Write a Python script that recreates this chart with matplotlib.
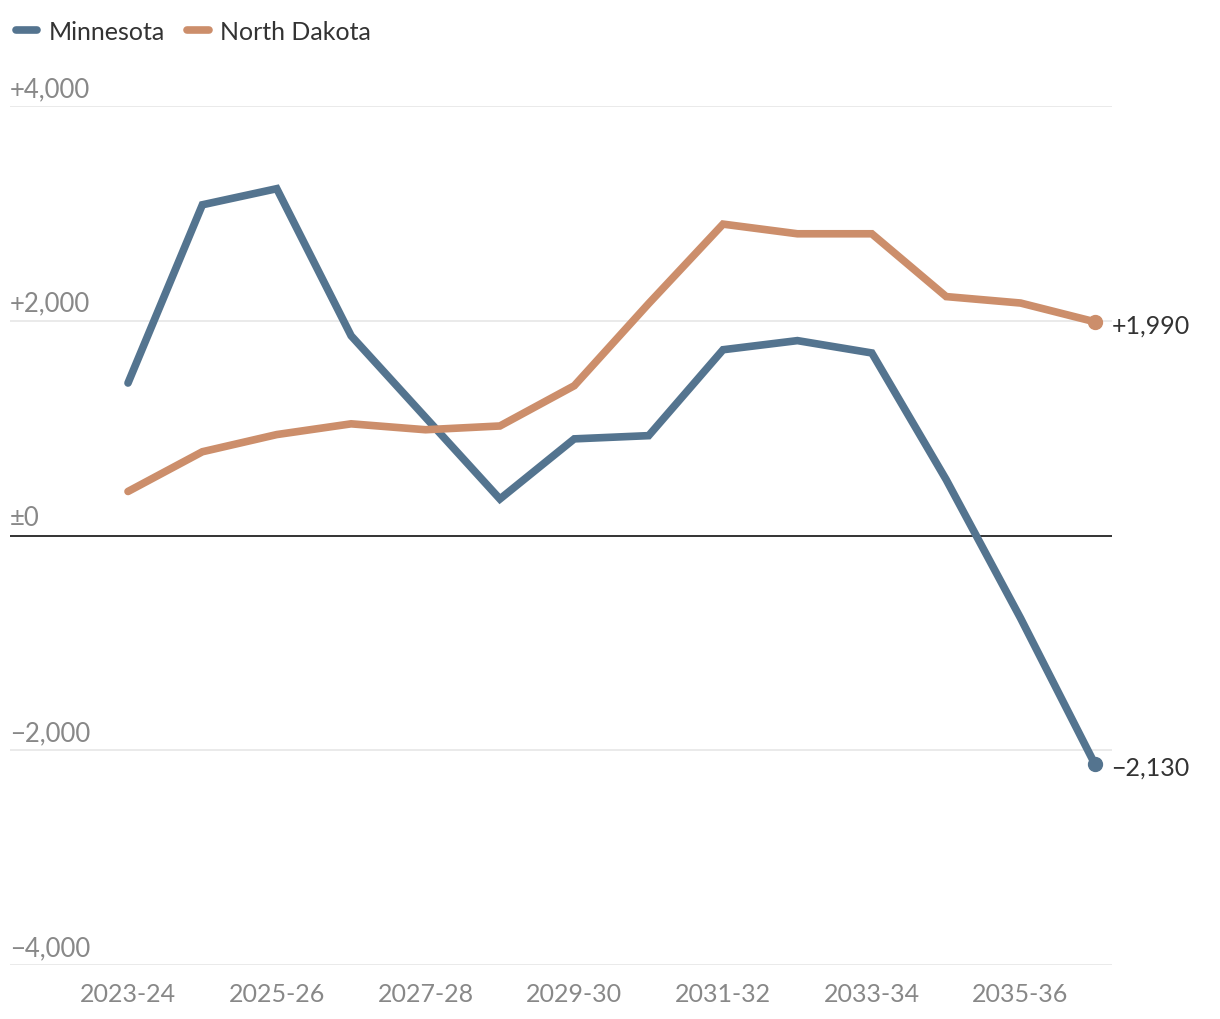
import matplotlib.pyplot as plt
from matplotlib.transforms import blended_transform_factory, offset_copy

# Data
seasons = ['2023-24', '2024-25', '2025-26', '2026-27', '2027-28', '2028-29', '2029-30',
           '2030-31', '2031-32', '2032-33', '2033-34', '2034-35', '2035-36', '2036-37']
minnesota = [1420, 3080, 3230, 1860, 1100, 340, 900, 930, 1730, 1815, 1700, 520, -770, -2130]
north_dakota = [410, 780, 940, 1040, 985, 1020, 1395, 2160, 2900, 2810, 2810, 2225, 2165, 1990]
y_ticks = [4000, 2000, 0, -2000, -4000]
y_tick_labels = ['+4,000', '+2,000', '\u00b10', '\u22122,000', '\u22124,000']
end_labels = ['\u22122,130', '+1,990']

blue = '#54748f'
orange = '#cc8e6b'
grey = '#888888'
dark = '#333333'

plt.rcParams['font.family'] = ['Lato', 'DejaVu Sans']

fig = plt.figure(figsize=(12.2, 10.2), dpi=100)
W, H = 1220, 1020
ax = fig.add_axes([10 / W, (H - 966) / H, 1102 / W, 859 / H])

x = list(range(len(seasons)))
ax.plot(x, minnesota, color=blue, lw=5.5, solid_capstyle='round', solid_joinstyle='miter', zorder=3,
        label='Minnesota')
ax.plot(x, north_dakota, color=orange, lw=5.5, solid_capstyle='round', solid_joinstyle='miter', zorder=3,
        label='North Dakota')
ax.plot(x[-1], minnesota[-1], 'o', color=blue, ms=10, zorder=4)
ax.plot(x[-1], north_dakota[-1], 'o', color=orange, ms=10, zorder=4)

# end value labels
for val, lab in zip([minnesota[-1], north_dakota[-1]], end_labels):
    ax.annotate(lab, (x[-1], val), xytext=(12, -2), textcoords='offset points',
                va='center', ha='left', fontsize=18, color=dark, annotation_clip=False)

ax.set_xlim((10 - 128) / 74.38, (1112 - 128) / 74.38)
ax.set_ylim(-4000, 4000)

# gridlines and zero line
for yv in y_ticks:
    if yv == 0:
        ax.axhline(0, color=dark, lw=1.4, zorder=2)
    else:
        ax.axhline(yv, color='#e6e6e6', lw=1.2, zorder=1)

# y labels above gridlines at the left edge
trans = offset_copy(blended_transform_factory(ax.transAxes, ax.transData), fig=fig, y=5, units='dots')
for yv, lab in zip(y_ticks, y_tick_labels):
    ax.text(0, yv, lab, transform=trans, ha='left', va='bottom', fontsize=18.5, color=grey)

ax.set_xticks(x[::2])
ax.set_xticklabels(seasons[::2], fontsize=18, color=grey)
ax.tick_params(axis='x', length=0, pad=12)
ax.set_yticks([])
for s in ax.spines.values():
    s.set_visible(False)

leg = fig.legend(loc='upper left', bbox_to_anchor=(0.001, 0.994), ncol=2, frameon=False,
                 fontsize=18, handlelength=0.85, handletextpad=0.45, columnspacing=0.9,
                 borderaxespad=0.2)
for t in leg.get_texts():
    t.set_color(dark)

fig.savefig('out.png', dpi=100, facecolor='white')
